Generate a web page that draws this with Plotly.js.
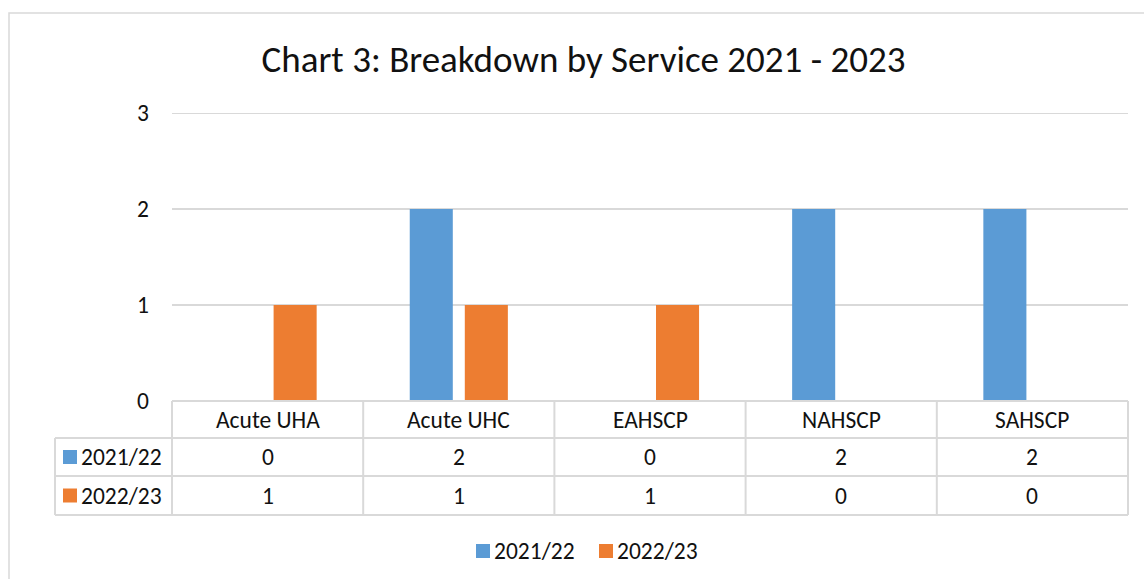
<!DOCTYPE html>
<html>
<head>
<meta charset="utf-8">
<script src="https://cdn.plot.ly/plotly-3.0.1.min.js"></script>
<style>html,body{margin:0;padding:0;background:#fff;}#chart{width:1144px;height:579px;}</style>
</head>
<body>
<div id="chart"></div>
<script>
const categories = ['Acute UHA', 'Acute UHC', 'EAHSCP', 'NAHSCP', 'SAHSCP'];
const seriesNames = ['2021/22', '2022/23'];
const values2122 = [0, 2, 0, 2, 2];
const values2223 = [1, 1, 1, 0, 0];
const yTickVals = [0, 1, 2, 3];

const W = 1144, H = 579;
const L = 172, R = 16, T = 113, B = 178;
const plotW = W - L - R, plotH = H - T - B;
const xp = X => (X - L) / plotW;
const yp = Y => (H - B - Y) / plotH;

const FONT = 'Calibri, Carlito, Lato, sans-serif';
const TXT = '#111111';
const LINE = '#d9d9d9';
const colors = ['#5B9BD5', '#ED7D31'];
const seriesVals = [values2122, values2223];
const FS = 23.5;

const traces = seriesNames.map((name, i) => ({
  type: 'bar', name: name, x: categories, y: seriesVals[i],
  marker: {color: colors[i]}, hoverinfo: 'x+y+name'
}));

const rowY = [438, 476, 515];
const shapes = [];
// frame
shapes.push({type: 'rect', xref: 'paper', yref: 'paper', x0: xp(9), x1: xp(1160), y0: yp(13), y1: yp(600),
  line: {color: LINE, width: 1.5}, fillcolor: 'rgba(0,0,0,0)'});
// top gridline (at axis max)
shapes.push({type: 'line', xref: 'paper', yref: 'y', x0: 0, x1: 1, y0: yTickVals[yTickVals.length - 1], y1: yTickVals[yTickVals.length - 1], line: {color: LINE, width: 2}, layer: 'below'});
// table horizontals
shapes.push({type: 'line', xref: 'paper', yref: 'paper', x0: 0, x1: 1, y0: 0, y1: 0, line: {color: LINE, width: 2}});
rowY.forEach(Y => shapes.push({type: 'line', xref: 'paper', yref: 'paper', x0: xp(55), x1: 1, y0: yp(Y), y1: yp(Y), line: {color: LINE, width: 2}}));
// table verticals at category boundaries
for (let i = 0; i <= categories.length; i++) {
  const px = i / categories.length;
  shapes.push({type: 'line', xref: 'paper', yref: 'paper', x0: px, x1: px, y0: 0, y1: yp(515), line: {color: LINE, width: 2}});
}
shapes.push({type: 'line', xref: 'paper', yref: 'paper', x0: xp(55), x1: xp(55), y0: yp(438), y1: yp(515), line: {color: LINE, width: 2}});

const annotations = [];
const cellFont = {family: FONT, size: FS, color: TXT};
categories.forEach((c, j) => {
  annotations.push({xref: 'x', yref: 'paper', x: c, y: yp(420), text: c, showarrow: false, font: cellFont, yanchor: 'middle'});
  seriesVals.forEach((vals, i) => {
    const cy = (rowY[i] + rowY[i + 1]) / 2;
    annotations.push({xref: 'x', yref: 'paper', x: c, y: yp(cy), text: String(vals[j]), showarrow: false, font: cellFont, yanchor: 'middle'});
  });
});
// row legend keys
seriesNames.forEach((n, i) => {
  const cy = (rowY[i] + rowY[i + 1]) / 2;
  shapes.push({type: 'rect', xref: 'paper', yref: 'paper', x0: xp(63), x1: xp(77), y0: yp(cy - 7), y1: yp(cy + 7), line: {width: 0}, fillcolor: colors[i]});
  annotations.push({xref: 'paper', yref: 'paper', x: xp(79), y: yp(cy), xanchor: 'left', yanchor: 'middle', text: n, showarrow: false, font: cellFont});
});
// bottom legend
const legY = 551;
const legSq = [476, 599];
seriesNames.forEach((n, i) => {
  shapes.push({type: 'rect', xref: 'paper', yref: 'paper', x0: xp(legSq[i]), x1: xp(legSq[i] + 14), y0: yp(legY - 7), y1: yp(legY + 7), line: {width: 0}, fillcolor: colors[i]});
  annotations.push({xref: 'paper', yref: 'paper', x: xp(legSq[i] + 16), y: yp(legY), xanchor: 'left', yanchor: 'middle', text: n, showarrow: false, font: cellFont});
});

const layout = {
  width: W, height: H,
  margin: {l: L, r: R, t: T, b: B},
  paper_bgcolor: '#ffffff', plot_bgcolor: '#ffffff',
  font: {family: FONT, color: TXT, size: FS},
  title: {text: 'Chart 3: Breakdown by Service 2021 - 2023', font: {family: FONT, size: 37, color: TXT},
    x: 583.5 / W, xanchor: 'center', xref: 'container', y: 1 - 59 / H, yanchor: 'middle', yref: 'container'},
  showlegend: false,
  barmode: 'group', bargap: 0.424, bargroupgap: 0.218,
  xaxis: {type: 'category', range: [-0.5, 4.5], showticklabels: false, showgrid: false, zeroline: false, showline: false, ticks: ''},
  yaxis: {range: [0, 3], tickvals: yTickVals, ticktext: yTickVals.map(String), showgrid: true, gridcolor: LINE, gridwidth: 2,
    zeroline: false, showline: false, ticks: '', ticklabelstandoff: 22, tickfont: {family: FONT, size: FS, color: TXT}},
  shapes: shapes, annotations: annotations
};

Plotly.newPlot('chart', traces, layout, {displayModeBar: false, staticPlot: true});
</script>
</body>
</html>
